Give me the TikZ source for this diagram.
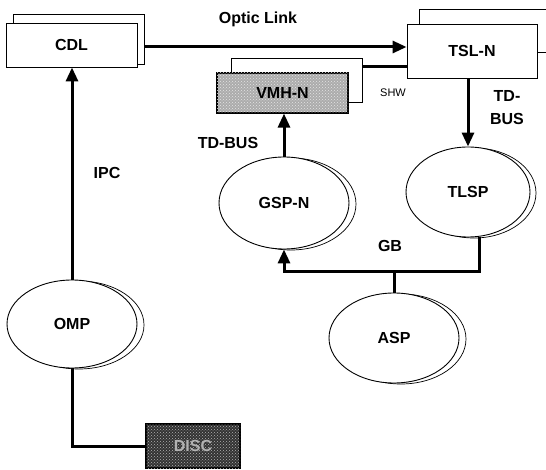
\documentclass[tikz,border=0pt]{standalone}
\usepackage{fontspec}
\setmainfont{Liberation Sans}
\usetikzlibrary{arrows.meta,shapes.geometric,patterns}
\begin{document}
\begin{tikzpicture}[x=1pt,y=-1pt,
  lbl/.style={font=\fontsize{16}{18}\selectfont\bfseries},
  box/.style={draw,line width=0.9pt,fill=white,inner sep=0pt},
  shbox/.style={draw,line width=0.7pt,fill=white,inner sep=0pt},
  ell/.style={ellipse,draw,line width=0.9pt,fill=white,inner sep=0pt},
  shell/.style={ellipse,draw,line width=0.7pt,fill=white,inner sep=0pt},
  conn/.style={line width=3pt},
  arr/.style={conn,-{Triangle[length=14pt,width=12pt]}},
  texbox/.style={draw,line width=1.2pt,inner sep=0pt},
]
\useasboundingbox (0,0) rectangle (546,470);

% ---- boxes ----
\node[shbox,minimum width=131pt,minimum height=50pt] (cdlb) at (78.5,39) {};
\node[box,lbl,minimum width=131pt,minimum height=44pt] (cdl) at (71.5,45) {CDL};

\node[shbox,minimum width=141pt,minimum height=43pt] (tslb) at (489.5,30.5) {};
\node[box,lbl,minimum width=130pt,minimum height=54pt] (tsl) at (472,51) {TSL-N};

\node[shbox,minimum width=131pt,minimum height=44pt] (vmhb) at (296.5,80) {};
\node[texbox,lbl,fill=gray!65,postaction={pattern=crosshatch dots,pattern color=white!80!gray},
      minimum width=131pt,minimum height=40pt] (vmh) at (282.5,93) {VMH-N};

\node[texbox,lbl,fill=black!80,postaction={pattern=crosshatch dots,pattern color=gray!60},
      text=white!70!black,minimum width=94pt,minimum height=44pt] (disc) at (193,446) {DISC};

% ---- ellipses ----
\node[shell,minimum width=130pt,minimum height=88pt] (omps) at (79,325) {};
\node[ell,lbl,minimum width=130pt,minimum height=88pt] (omp) at (72,324) {OMP};

\node[shell,minimum width=130pt,minimum height=92pt] (gsps) at (291,204) {};
\node[ell,lbl,minimum width=130pt,minimum height=92pt] (gsp) at (284,203) {GSP-N};

\node[shell,minimum width=124pt,minimum height=90pt] (tlsps) at (474,193) {};
\node[ell,lbl,minimum width=124pt,minimum height=90pt] (tlsp) at (468,192) {TLSP};

\node[shell,minimum width=130pt,minimum height=90pt] (asps) at (401,339) {};
\node[ell,lbl,minimum width=130pt,minimum height=90pt] (asp) at (394,338) {ASP};

% ---- connectors ----
\draw[arr] (cdlb.east |- 0,47) -- (tsl.west |- 0,47);
\draw[arr] (omp.north) -- (omp.north |- cdl.south);
\draw[conn] (omp.south) |- (disc.west);
\draw[arr] (gsp.north) -- (gsp.north |- vmh.south);
\draw[conn] (vmhb.east |- 0,67) -- (tsl.west |- 0,67);
\draw[arr] (tsl.south -| tlsp.north) -- (tlsp.north);
\draw[arr] (tlsp.285) |- (gsp.south |- 0,272) -- (gsp.south);
\draw[conn] (asp.north) -- (asp.north |- 0,272);

% ---- labels ----
\node[lbl] (optic) at (258,19) {Optic Link};
\node[lbl] (ipc) at (107,173) {IPC};
\node[lbl] (tdbus1) at (228,143) {TD-BUS};
\node[font=\fontsize{11}{13}\selectfont] (shw) at (393,93) {SHW};
\node[lbl,align=center,font=\fontsize{16}{23}\selectfont\bfseries] (tdbus2) at (507,108) {TD-\\BUS};
\node[lbl] (gb) at (390,246) {GB};
\end{tikzpicture}
\end{document}
